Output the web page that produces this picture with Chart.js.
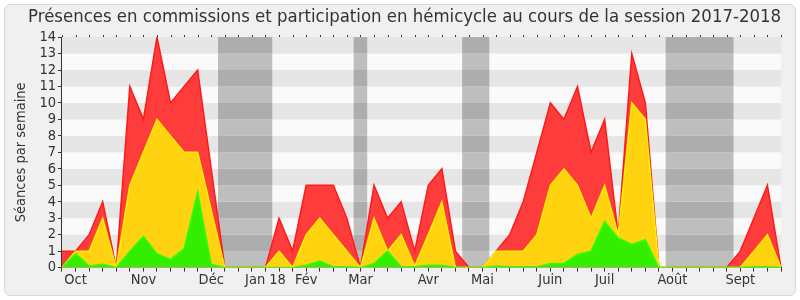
<!DOCTYPE html>
<html>
<head>
<meta charset="utf-8">
<script src="https://cdn.jsdelivr.net/npm/chart.js@4/dist/chart.umd.min.js"></script>
<style>
  html, body { margin: 0; padding: 0; background: #ffffff; }
  #wrap { position: relative; width: 800px; height: 300px; }
  #frame { position: absolute; left: 4px; top: 4px; width: 790px; height: 290px;
           border: 1px solid #d8d8d8; border-radius: 6px; background: #f0f0f0; }
  #c { position: absolute; left: 0; top: 0; }
</style>
</head>
<body>
<div id="wrap">
  <div id="frame"></div>
  <canvas id="c" width="800" height="300"></canvas>
</div>
<script>
// Week labels (one per week, month name on the first week of each month)
const weekLabels = [
  '', 'Oct', '', '', '', '', 'Nov', '', '', '', '',
  'Déc', '', '', '', 'Jan 18', '', '', 'Fév', '', '', '',
  'Mar', '', '', '', '', 'Avr', '', '', '', 'Mai', '', '', '', '',
  'Juin', '', '', '', 'Juil', '', '', '', '', 'Août', '', '', '', '',
  'Sept', '', '', ''
];

// Red: total (commissions + hémicycle)
const totalValues = [
  1, 1, 2, 4, 0, 11, 9, 14, 10, 11, 12, 6, 0, 0, 0, 0, 3, 1, 5, 5,
  5, 3, 0, 5, 3, 4, 1, 5, 6, 1, 0, 0, 1, 2, 4, 7, 10, 9, 11, 7,
  9, 2, 13, 10, 0, 0, 0, 0, 0, 0, 1, 3, 5, 0
];
// Yellow
const yellowValues = [
  0, 1, 1, 3, 0, 5, 7, 9, 8, 7, 7, 3.5, 0, 0, 0, 0, 1, 0, 2, 3,
  2, 1, 0, 3, 1, 2, 0.1, 2, 4, 0, 0, 0, 1, 1, 1, 2, 5, 6, 5, 3,
  5, 2, 10, 9, 0, 0, 0, 0, 0, 0, 0, 1, 2, 0
];
// Green
const greenValues = [
  0, 0.85, 0.1, 0.2, 0, 1, 1.9, 0.85, 0.5, 1.15, 4.6, 0.2, 0, 0, 0, 0, 0, 0, 0.15, 0.4,
  0.05, 0.05, 0, 0.25, 1, 0.05, 0.05, 0.15, 0.15, 0, 0, 0, 0.1, 0.05, 0.05, 0.05, 0.25, 0.25, 0.8, 1,
  2.8, 1.8, 1.4, 1.7, 0, 0, 0, 0, 0, 0, 0, 0.05, 0.05, 0
];
// Vacation weeks (first week index, last week index)
const vacationWeeks = [[12, 15], [22, 22], [30, 31], [45, 49]];

const FONT = 'DejaVu Sans Condensed, DejaVu Sans';

const backgroundPlugin = {
  id: 'bg',
  beforeDatasetsDraw(chart) {
    const { ctx, chartArea: a, scales: { x, y } } = chart;
    ctx.save();
    for (let k = 0; k < 14; k++) {
      const y0 = y.getPixelForValue(k), y1 = y.getPixelForValue(k + 1);
      ctx.fillStyle = (k % 2 === 1) ? '#e6e6e6' : '#fafafa';
      ctx.fillRect(a.left, y1, a.right - a.left, y0 - y1);
    }
    const half = (x.getPixelForValue(1) - x.getPixelForValue(0)) / 2;
    for (const [s, e] of vacationWeeks) {
      const xs = x.getPixelForValue(s) - half, xe = x.getPixelForValue(e) + half;
      for (let k = 0; k < 14; k++) {
        const y0 = y.getPixelForValue(k), y1 = y.getPixelForValue(k + 1);
        ctx.fillStyle = (k % 2 === 1) ? '#adadad' : '#bebebe';
        ctx.fillRect(xs, y1, xe - xs, y0 - y1);
      }
    }
    ctx.restore();
  },
  afterDraw(chart) {
    const { ctx, chartArea: a, scales: { x } } = chart;
    ctx.save();
    ctx.strokeStyle = '#333';
    ctx.lineWidth = 1;
    for (let i = 0; i < weekLabels.length; i++) {
      const px = Math.round(x.getPixelForValue(i)) + 0.5;
      ctx.beginPath();
      ctx.moveTo(px, a.top - 2);
      ctx.lineTo(px, a.top);
      ctx.stroke();
    }
    ctx.restore();
  }
};

new Chart(document.getElementById('c'), {
  type: 'line',
  data: {
    labels: weekLabels,
    datasets: [
      { data: greenValues, borderColor: '#33ff00', backgroundColor: '#33ee00', fill: 'origin', borderWidth: 1.5, pointRadius: 0, tension: 0 },
      { data: yellowValues, borderColor: '#ffee00', backgroundColor: '#ffd30f', fill: 'origin', borderWidth: 1.5, pointRadius: 0, tension: 0 },
      { data: totalValues, borderColor: '#ff1a1a', backgroundColor: '#ff3c3c', fill: 'origin', borderWidth: 1.5, pointRadius: 0, tension: 0 }
    ]
  },
  options: {
    responsive: false,
    animation: false,
    events: [],
    layout: { padding: { left: 13, right: 19, top: 2, bottom: 11 } },
    plugins: {
      legend: { display: false },
      tooltip: { enabled: false },
      title: {
        display: true,
        align: 'end',
        text: 'Présences en commissions et participation en hémicycle au cours de la session 2017-2018',
        color: '#333',
        font: { family: FONT, size: 18.4, weight: 'normal' },
        padding: { top: 4, bottom: 9 }
      }
    },
    scales: {
      x: {
        offset: false,
        grid: { display: true, drawOnChartArea: false, tickLength: 4, color: '#333' },
        border: { display: true, color: '#333' },
        ticks: {
          autoSkip: false, maxRotation: 0, minRotation: 0, padding: 0,
          color: '#333', font: { family: FONT, size: 14.5 }
        }
      },
      y: {
        min: 0, max: 14,
        grid: { display: true, drawOnChartArea: false, tickLength: 4, color: '#333' },
        border: { display: true, color: '#333' },
        ticks: {
          stepSize: 1, autoSkip: false, padding: 2,
          color: '#333', font: { family: FONT, size: 14.5 }
        },
        title: {
          display: true, text: 'Séances par semaine', color: '#333',
          font: { family: FONT, size: 14.5 },
          padding: { top: 0, bottom: 7 }
        }
      }
    }
  },
  plugins: [backgroundPlugin]
});
</script>
</body>
</html>
